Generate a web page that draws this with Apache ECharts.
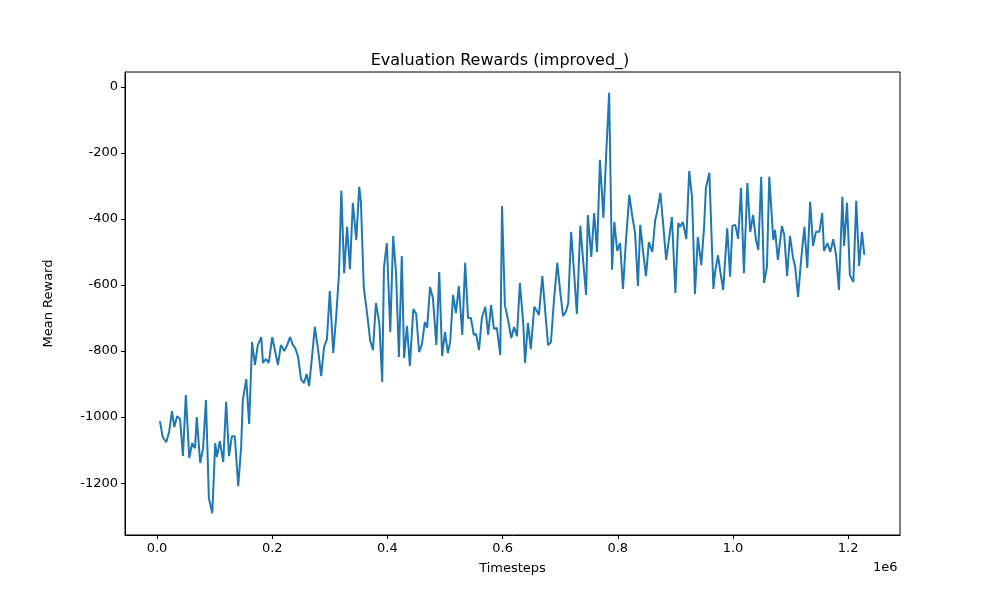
<!DOCTYPE html>
<html>
<head>
<meta charset="utf-8">
<script src="https://cdn.jsdelivr.net/npm/echarts@6/dist/echarts.min.js"></script>
<style>html,body{margin:0;padding:0;background:#fff}#chart{width:1000px;height:600px}</style>
</head>
<body>
<div id="chart"></div>
<script>
// timesteps in thousands
const timesteps = [5,10,16,21,26,30,35,40,45,50,56,61,66,69,75,80,85,90,96,101,104,109,115,120,125,130,135,141,146,149,155,160,165,170,175,181,184,189,194,200,205,210,215,221,226,231,236,240,245,250,255,260,264,269,274,280,285,290,295,300,306,311,316,320,325,330,335,340,346,351,354,359,365,370,375,380,386,391,394,399,405,410,415,420,425,429,434,439,445,450,455,460,465,469,474,479,485,490,495,500,505,509,514,519,524,530,535,540,545,550,554,559,564,570,575,580,585,590,596,599,604,610,615,620,625,630,636,639,644,649,655,660,663,669,674,679,684,689,695,700,705,710,714,719,724,729,735,740,745,748,754,759,764,769,775,780,785,790,794,799,804,809,814,820,825,830,835,839,844,849,854,860,865,868,874,879,884,889,894,900,905,908,913,919,924,929,934,939,945,950,953,959,966,969,974,978,983,990,995,999,1004,1009,1014,1019,1025,1030,1035,1040,1044,1049,1054,1059,1063,1070,1073,1078,1085,1089,1094,1099,1104,1108,1113,1118,1124,1129,1134,1139,1144,1150,1155,1158,1164,1169,1174,1179,1184,1190,1193,1198,1203,1209,1214,1219,1224,1228];
const rewards = [-1012,-1061,-1076,-1045,-982,-1030,-997,-1006,-1118,-933,-1124,-1079,-1094,-1000,-1139,-1094,-948,-1245,-1291,-1079,-1121,-1073,-1136,-954,-1118,-1058,-1058,-1209,-1091,-948,-885,-1021,-773,-842,-782,-758,-836,-824,-836,-758,-800,-842,-782,-800,-782,-758,-782,-791,-818,-885,-897,-870,-906,-820,-727,-800,-876,-788,-764,-618,-806,-697,-564,-315,-564,-424,-552,-351,-464,-303,-348,-609,-690,-767,-797,-655,-715,-894,-548,-473,-742,-452,-564,-818,-512,-821,-724,-845,-673,-688,-803,-779,-712,-730,-606,-639,-782,-561,-815,-742,-806,-773,-630,-685,-603,-751,-533,-700,-700,-751,-748,-797,-700,-666,-751,-661,-733,-730,-812,-361,-661,-710,-761,-727,-755,-594,-720,-836,-715,-794,-666,-680,-691,-573,-680,-782,-773,-650,-533,-620,-694,-680,-655,-439,-560,-688,-421,-530,-630,-388,-515,-382,-500,-221,-397,-200,-18,-554,-409,-497,-473,-612,-470,-327,-390,-442,-603,-418,-500,-573,-470,-500,-403,-382,-321,-420,-524,-460,-394,-624,-412,-424,-409,-461,-255,-336,-627,-455,-540,-420,-306,-260,-612,-560,-510,-560,-615,-428,-575,-421,-418,-460,-306,-564,-291,-440,-388,-464,-494,-272,-594,-545,-272,-464,-433,-524,-421,-448,-573,-451,-515,-545,-636,-530,-424,-548,-348,-482,-439,-439,-382,-497,-473,-500,-461,-509,-615,-333,-482,-351,-570,-591,-345,-542,-439,-509];
const xTicks = [0,200,400,600,800,1000,1200];
const yTicks = [-1200,-1000,-800,-600,-400,-200,0];

const chart = echarts.init(document.getElementById('chart'));
const font = 'DejaVu Sans';
chart.setOption({
  animation: false,
  title: {
    text: 'Evaluation Rewards (improved_)',
    left: 'center', top: 48,
    textStyle: {fontFamily: font, fontSize: 16, fontWeight: 'normal', color: '#000'}
  },
  grid: {left: 125, right: 100, top: 72, bottom: 65, show: true, borderColor: '#000', borderWidth: 1},
  xAxis: {
    type: 'value', min: -55.6, max: 1290,
    name: 'Timesteps', nameLocation: 'middle', nameGap: 27,
    nameTextStyle: {fontFamily: font, fontSize: 13, color: '#000'},
    splitLine: {show: false},
    axisLine: {onZero: false, lineStyle: {color: '#000'}},
    axisTick: {inside: false, length: 4, lineStyle: {color: '#000'}, customValues: xTicks},
    axisLabel: {fontFamily: font, fontSize: 13, color: '#000', margin: 7,
      customValues: xTicks, formatter: v => (v / 1000).toFixed(1)}
  },
  yAxis: {
    type: 'value', min: -1357, max: 45,
    name: 'Mean Reward', nameLocation: 'middle', nameGap: 70,
    nameTextStyle: {fontFamily: font, fontSize: 13, color: '#000'},
    splitLine: {show: false},
    axisLine: {show: true, onZero: false, lineStyle: {color: '#000'}},
    axisTick: {show: true, length: 4, lineStyle: {color: '#000'}, customValues: yTicks},
    axisLabel: {fontFamily: font, fontSize: 13, color: '#000', margin: 7,
      customValues: yTicks, formatter: v => String(v)}
  },
  graphic: [{type: 'text', left: 873, top: 561,
    style: {text: '1e6', font: '13px DejaVu Sans', fill: '#000'}}],
  series: [{
    type: 'line', showSymbol: false,
    data: timesteps.map((t, i) => [t, rewards[i]]),
    lineStyle: {color: '#1f77b4', width: 2},
    itemStyle: {color: '#1f77b4'}
  }]
});
</script>
</body>
</html>
